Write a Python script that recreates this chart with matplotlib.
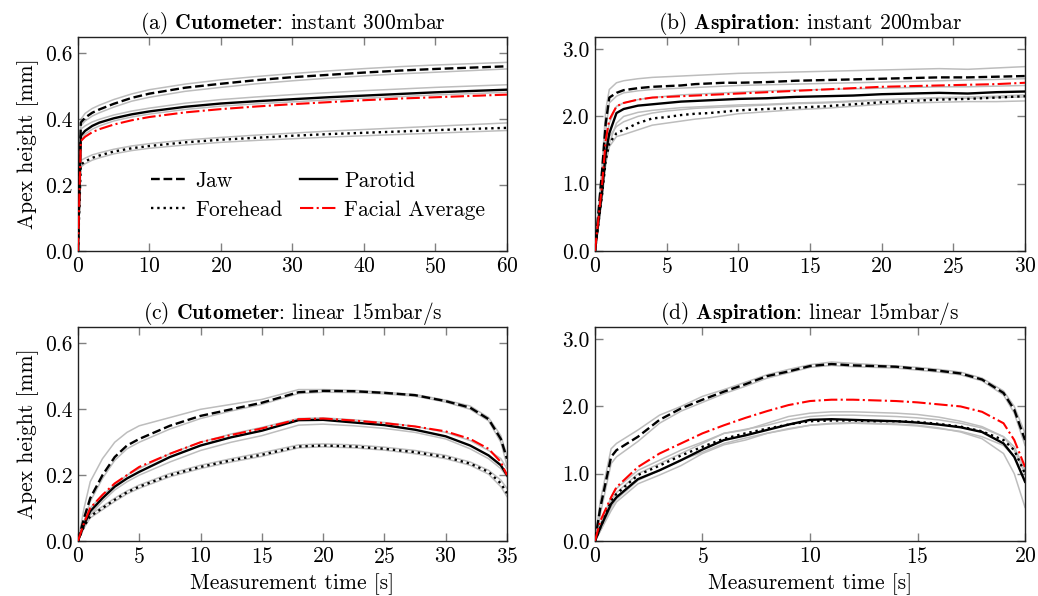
import matplotlib
matplotlib.use("Agg")
import matplotlib.pyplot as plt
from matplotlib.ticker import FormatStrFormatter

# --- fonts: Computer Modern look ---
plt.rcParams["font.family"] = "serif"
plt.rcParams["font.serif"] = ["cmr10"]
plt.rcParams["mathtext.fontset"] = "cm"
plt.rcParams["axes.formatter.use_mathtext"] = True
plt.rcParams["axes.unicode_minus"] = False

# --- panel (a): Cutometer instant 300mbar ---
a_time = [0, 0.4, 1, 2, 3, 5, 7.5, 10, 15, 20, 25, 30, 35, 40, 45, 50, 55, 60]
a_jaw = [0, 0.39, 0.405, 0.42, 0.43, 0.447, 0.465, 0.478, 0.496, 0.508, 0.519, 0.528, 0.535, 0.542, 0.548, 0.553, 0.557, 0.561]
a_parotid = [0, 0.35, 0.365, 0.38, 0.39, 0.403, 0.415, 0.424, 0.438, 0.448, 0.455, 0.461, 0.467, 0.472, 0.477, 0.482, 0.486, 0.490]
a_forehead = [0, 0.262, 0.272, 0.283, 0.29, 0.302, 0.312, 0.319, 0.330, 0.338, 0.344, 0.350, 0.355, 0.359, 0.363, 0.367, 0.371, 0.374]
a_average = [0, 0.334, 0.347, 0.361, 0.37, 0.384, 0.397, 0.407, 0.421, 0.431, 0.439, 0.446, 0.452, 0.458, 0.463, 0.467, 0.471, 0.475]
a_grey = [
    [0, 0.40, 0.418, 0.433, 0.443, 0.46, 0.477, 0.49, 0.507, 0.52, 0.53, 0.539, 0.547, 0.554, 0.56, 0.565, 0.569, 0.573],
    [0, 0.38, 0.395, 0.41, 0.42, 0.437, 0.455, 0.467, 0.485, 0.497, 0.508, 0.517, 0.525, 0.532, 0.538, 0.543, 0.548, 0.553],
    [0, 0.37, 0.38, 0.392, 0.40, 0.413, 0.425, 0.434, 0.449, 0.46, 0.468, 0.475, 0.481, 0.487, 0.492, 0.497, 0.501, 0.505],
    [0, 0.34, 0.355, 0.37, 0.38, 0.395, 0.407, 0.416, 0.43, 0.44, 0.447, 0.453, 0.459, 0.464, 0.469, 0.474, 0.478, 0.482],
    [0, 0.275, 0.282, 0.292, 0.298, 0.309, 0.319, 0.326, 0.337, 0.345, 0.352, 0.358, 0.364, 0.369, 0.374, 0.379, 0.384, 0.389],
    [0, 0.255, 0.265, 0.276, 0.283, 0.295, 0.305, 0.312, 0.322, 0.330, 0.336, 0.341, 0.346, 0.350, 0.354, 0.358, 0.362, 0.366],
]

# --- panel (b): Aspiration instant 200mbar ---
b_time = [0, 0.5, 0.75, 1, 1.5, 2, 3, 4, 5, 6, 7, 8, 9, 10, 12, 14, 16, 18, 20, 22, 24, 26, 28, 30]
b_jaw = [0, 1.2, 1.9, 2.28, 2.35, 2.39, 2.42, 2.44, 2.45, 2.46, 2.48, 2.49, 2.50, 2.50, 2.51, 2.53, 2.54, 2.55, 2.56, 2.57, 2.58, 2.58, 2.59, 2.60]
b_parotid = [0, 0.9, 1.45, 1.75, 2.05, 2.11, 2.16, 2.18, 2.2, 2.22, 2.23, 2.24, 2.25, 2.26, 2.27, 2.29, 2.30, 2.31, 2.33, 2.34, 2.35, 2.34, 2.36, 2.37]
b_forehead = [0, 0.85, 1.35, 1.6, 1.75, 1.8, 1.9, 1.97, 1.99, 2.02, 2.04, 2.05, 2.07, 2.09, 2.11, 2.13, 2.15, 2.18, 2.21, 2.23, 2.25, 2.26, 2.28, 2.30]
b_average = [0, 1.0, 1.65, 1.95, 2.15, 2.2, 2.25, 2.28, 2.29, 2.30, 2.31, 2.32, 2.33, 2.34, 2.36, 2.38, 2.40, 2.42, 2.44, 2.45, 2.46, 2.47, 2.48, 2.50]
b_grey = [
    [0, 1.3, 2.1, 2.4, 2.5, 2.53, 2.56, 2.58, 2.59, 2.60, 2.61, 2.62, 2.63, 2.64, 2.65, 2.66, 2.67, 2.68, 2.69, 2.70, 2.71, 2.70, 2.72, 2.74],
    [0, 1.1, 1.8, 2.2, 2.3, 2.35, 2.38, 2.40, 2.41, 2.42, 2.43, 2.44, 2.45, 2.46, 2.47, 2.48, 2.49, 2.50, 2.51, 2.52, 2.53, 2.54, 2.55, 2.56],
    [0, 1.0, 1.6, 1.9, 2.15, 2.2, 2.25, 2.28, 2.30, 2.32, 2.33, 2.34, 2.35, 2.36, 2.38, 2.39, 2.40, 2.41, 2.42, 2.43, 2.44, 2.44, 2.45, 2.46],
    [0, 0.8, 1.3, 1.6, 1.9, 2.0, 2.06, 2.09, 2.11, 2.13, 2.14, 2.15, 2.16, 2.17, 2.18, 2.20, 2.21, 2.23, 2.25, 2.26, 2.27, 2.27, 2.28, 2.29],
    [0, 0.9, 1.4, 1.7, 1.85, 1.92, 2.0, 2.05, 2.08, 2.10, 2.12, 2.13, 2.14, 2.15, 2.17, 2.19, 2.20, 2.22, 2.24, 2.26, 2.28, 2.29, 2.30, 2.32],
    [0, 0.8, 1.3, 1.55, 1.7, 1.73, 1.80, 1.87, 1.90, 1.93, 1.96, 1.98, 2.01, 2.04, 2.07, 2.10, 2.12, 2.15, 2.18, 2.20, 2.21, 2.22, 2.22, 2.23],
]

# --- panel (c): Cutometer linear 15mbar/s ---
c_time = [0, 0.5, 1, 2, 3, 4, 5, 7.5, 10, 12.5, 15, 18, 20, 22.5, 25, 27.5, 30, 32, 33.5, 34.5, 35]
c_jaw = [0, 0.07, 0.13, 0.20, 0.255, 0.29, 0.31, 0.35, 0.38, 0.40, 0.42, 0.452, 0.456, 0.455, 0.45, 0.443, 0.425, 0.405, 0.37, 0.31, 0.25]
c_parotid = [0, 0.05, 0.09, 0.13, 0.165, 0.19, 0.21, 0.255, 0.29, 0.315, 0.335, 0.367, 0.368, 0.36, 0.352, 0.338, 0.318, 0.29, 0.26, 0.23, 0.20]
c_forehead = [0, 0.045, 0.075, 0.10, 0.125, 0.148, 0.165, 0.20, 0.225, 0.245, 0.262, 0.287, 0.29, 0.287, 0.28, 0.27, 0.255, 0.235, 0.21, 0.175, 0.145]
c_average = [0, 0.055, 0.1, 0.14, 0.175, 0.2, 0.225, 0.265, 0.30, 0.322, 0.342, 0.37, 0.372, 0.366, 0.358, 0.348, 0.333, 0.31, 0.28, 0.24, 0.20]
c_grey = [
    [0, 0.1, 0.18, 0.25, 0.30, 0.33, 0.35, 0.375, 0.40, 0.415, 0.43, 0.46, 0.46, 0.458, 0.452, 0.445, 0.428, 0.41, 0.375, 0.32, 0.26],
    [0, 0.06, 0.12, 0.19, 0.245, 0.28, 0.30, 0.34, 0.372, 0.395, 0.415, 0.448, 0.452, 0.451, 0.447, 0.44, 0.422, 0.40, 0.365, 0.3, 0.23],
    [0, 0.06, 0.1, 0.14, 0.17, 0.2, 0.22, 0.265, 0.30, 0.325, 0.345, 0.372, 0.374, 0.368, 0.36, 0.348, 0.33, 0.305, 0.275, 0.25, 0.22],
    [0, 0.045, 0.08, 0.12, 0.155, 0.18, 0.2, 0.24, 0.275, 0.3, 0.32, 0.352, 0.355, 0.35, 0.342, 0.33, 0.31, 0.28, 0.25, 0.22, 0.195],
    [0, 0.05, 0.08, 0.105, 0.13, 0.152, 0.17, 0.205, 0.23, 0.25, 0.268, 0.292, 0.295, 0.292, 0.285, 0.275, 0.26, 0.24, 0.215, 0.185, 0.16],
    [0, 0.04, 0.07, 0.095, 0.12, 0.143, 0.16, 0.195, 0.22, 0.24, 0.257, 0.283, 0.286, 0.283, 0.276, 0.265, 0.25, 0.23, 0.203, 0.165, 0.135],
]

# --- panel (d): Aspiration linear 15mbar/s ---
d_time = [0, 0.25, 0.75, 1, 2, 3, 4, 5, 6, 7, 8, 9, 10, 11, 12, 13, 14, 15, 16, 17, 18, 19, 19.5, 20]
d_jaw = [0, 0.5, 1.25, 1.35, 1.55, 1.8, 1.97, 2.1, 2.22, 2.33, 2.45, 2.52, 2.6, 2.63, 2.61, 2.6, 2.59, 2.56, 2.53, 2.49, 2.4, 2.2, 1.95, 1.5]
d_parotid = [0, 0.2, 0.55, 0.65, 0.92, 1.05, 1.2, 1.36, 1.5, 1.57, 1.65, 1.73, 1.8, 1.81, 1.8, 1.79, 1.78, 1.76, 1.73, 1.69, 1.62, 1.45, 1.25, 0.88]
d_forehead = [0, 0.2, 0.6, 0.7, 0.98, 1.12, 1.27, 1.4, 1.52, 1.6, 1.67, 1.73, 1.78, 1.79, 1.79, 1.78, 1.78, 1.77, 1.74, 1.7, 1.63, 1.5, 1.35, 1.0]
d_average = [0, 0.3, 0.65, 0.8, 1.1, 1.3, 1.45, 1.6, 1.72, 1.83, 1.93, 2.02, 2.08, 2.1, 2.1, 2.09, 2.08, 2.06, 2.03, 2.0, 1.92, 1.75, 1.5, 1.1]
d_grey = [
    [0, 0.6, 1.37, 1.45, 1.65, 1.87, 2.0, 2.15, 2.25, 2.36, 2.47, 2.55, 2.62, 2.66, 2.64, 2.62, 2.6, 2.58, 2.55, 2.51, 2.42, 2.23, 2.0, 1.6],
    [0, 0.4, 1.15, 1.25, 1.48, 1.75, 1.93, 2.06, 2.19, 2.3, 2.42, 2.5, 2.58, 2.61, 2.59, 2.58, 2.57, 2.54, 2.51, 2.47, 2.38, 2.17, 1.9, 1.42],
    [0, 0.25, 0.6, 0.72, 1.0, 1.15, 1.3, 1.45, 1.6, 1.65, 1.75, 1.85, 1.9, 1.92, 1.92, 1.91, 1.9, 1.88, 1.84, 1.78, 1.7, 1.55, 1.35, 1.0],
    [0, 0.15, 0.45, 0.58, 0.85, 0.98, 1.12, 1.3, 1.43, 1.5, 1.6, 1.67, 1.72, 1.75, 1.76, 1.75, 1.74, 1.72, 1.68, 1.62, 1.52, 1.3, 1.0, 0.5],
    [0, 0.25, 0.65, 0.78, 1.05, 1.2, 1.35, 1.47, 1.6, 1.66, 1.72, 1.8, 1.85, 1.87, 1.87, 1.86, 1.85, 1.83, 1.8, 1.75, 1.68, 1.55, 1.4, 1.05],
    [0, 0.15, 0.5, 0.62, 0.9, 1.05, 1.2, 1.32, 1.45, 1.53, 1.6, 1.66, 1.72, 1.74, 1.75, 1.74, 1.73, 1.71, 1.67, 1.63, 1.55, 1.42, 1.25, 0.9],
]

titles = [
    r"(a) $\mathbf{Cutometer}$: instant 300mbar",
    r"(b) $\mathbf{Aspiration}$: instant 200mbar",
    r"(c) $\mathbf{Cutometer}$: linear 15mbar/s",
    r"(d) $\mathbf{Aspiration}$: linear 15mbar/s",
]

FS = 15.5
fig = plt.figure(figsize=(10.38, 5.96), dpi=100)

# axes boxes in figure fractions [left, bottom, width, height]
boxes = [
    [0.0751, 0.5789, 0.4133, 0.3590],
    [0.5732, 0.5789, 0.4143, 0.3590],
    [0.0751, 0.0923, 0.4133, 0.3590],
    [0.5732, 0.0923, 0.4143, 0.3590],
]

panels = [
    (a_time, a_jaw, a_parotid, a_forehead, a_average, a_grey, 60, 0.65, [0, 10, 20, 30, 40, 50, 60], [0.0, 0.2, 0.4, 0.6]),
    (b_time, b_jaw, b_parotid, b_forehead, b_average, b_grey, 30, 3.18, [0, 5, 10, 15, 20, 25, 30], [0.0, 1.0, 2.0, 3.0]),
    (c_time, c_jaw, c_parotid, c_forehead, c_average, c_grey, 35, 0.65, [0, 5, 10, 15, 20, 25, 30, 35], [0.0, 0.2, 0.4, 0.6]),
    (d_time, d_jaw, d_parotid, d_forehead, d_average, d_grey, 20, 3.18, [0, 5, 10, 15, 20], [0.0, 1.0, 2.0, 3.0]),
]

axes = []
for i, (t, jaw, par, fore, avg, grey, xmax, ymax, xt, yt) in enumerate(panels):
    ax = fig.add_axes(boxes[i])
    axes.append(ax)
    for g in grey:
        ax.plot(t, g, color="#bdbdbd", lw=1.1, zorder=1)
    l_jaw, = ax.plot(t, jaw, color="black", ls="--", lw=1.7, label="Jaw", zorder=3)
    l_par, = ax.plot(t, par, color="black", ls="-", lw=1.7, label="Parotid", zorder=3)
    l_fore, = ax.plot(t, fore, color="black", ls=":", lw=1.7, label="Forehead", zorder=3)
    l_avg, = ax.plot(t, avg, color="red", ls="-.", lw=1.5, label="Facial Average", zorder=4)

    ax.set_xlim(0, xmax)
    ax.set_ylim(0, ymax)
    ax.set_xticks(xt)
    ax.set_yticks(yt)
    ax.yaxis.set_major_formatter(FormatStrFormatter("%.1f"))
    ax.tick_params(direction="in", top=True, right=True, length=6, width=1,
                   color="#808080", labelsize=FS, pad=4)
    for sp in ax.spines.values():
        sp.set_color("#222222")
        sp.set_linewidth(1.0)
    ax.set_title(titles[i], fontsize=FS, pad=6)
    if i in (0, 2):
        ax.set_ylabel("Apex height [mm]", fontsize=FS, labelpad=4)
    if i in (2, 3):
        ax.set_xlabel("Measurement time [s]", fontsize=FS, labelpad=5)
    if i == 0:
        ax.legend([l_jaw, l_fore, l_par, l_avg],
                  ["Jaw", "Forehead", "Parotid", "Facial Average"],
                  ncol=2, frameon=False, fontsize=FS, loc="center",
                  bbox_to_anchor=(0.56, 0.26), handlelength=1.7,
                  columnspacing=0.8, labelspacing=0.45, handletextpad=0.35)

fig.savefig("out.png", dpi=100)
